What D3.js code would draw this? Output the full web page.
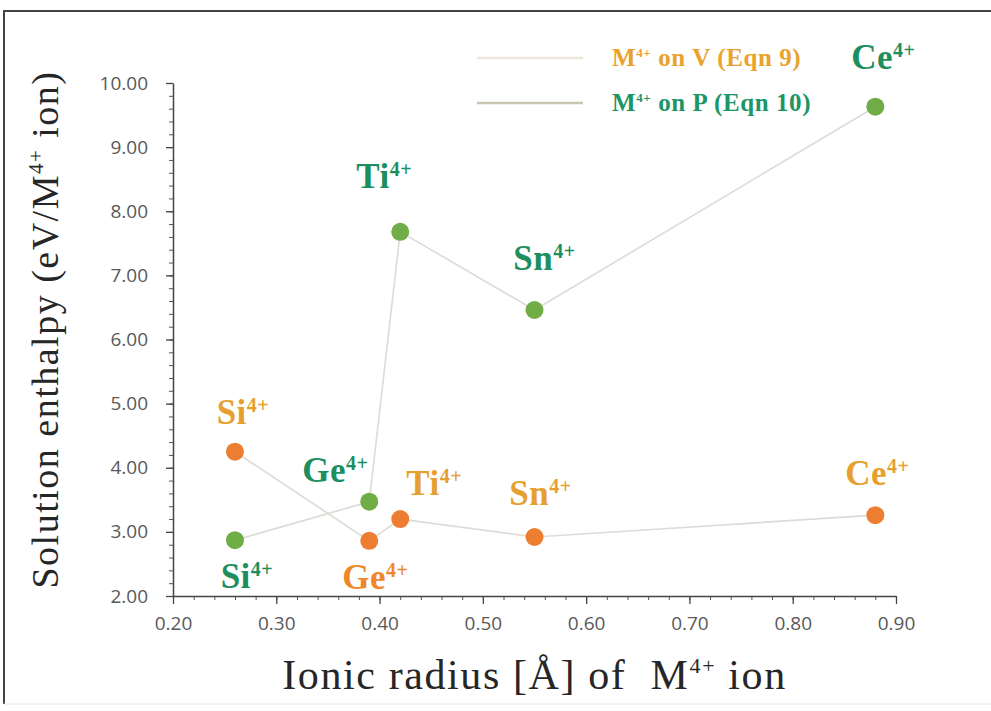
<!DOCTYPE html>
<html>
<head>
<meta charset="utf-8">
<script src="https://cdn.jsdelivr.net/npm/d3@7"></script>
<style>
body { margin: 0; background: #fff; }
.tick text { fill: #595959; font-family: "Open Sans", "DejaVu Sans", sans-serif; font-size: 19px; }
</style>
</head>
<body>
<div id="chart"></div>
<script>
// data
const ions = ["Si", "Ge", "Ti", "Sn", "Ce"];
const radius = [0.26, 0.39, 0.42, 0.55, 0.88];
const onV = [4.25, 2.86, 3.20, 2.92, 3.26];   // Eqn 9
const onP = [2.87, 3.47, 7.68, 6.46, 9.63];   // Eqn 10
const xTicks = [0.2, 0.3, 0.4, 0.5, 0.6, 0.7, 0.8, 0.9];
const yTicks = [2, 3, 4, 5, 6, 7, 8, 9, 10];
// label offsets (dx, dy) relative to each point
const vLabelPos = [[8, -28], [6, 48], [34, -24], [6, -32], [2, -30]];
const pLabelPos = [[12, 48], [-34, -20], [-16, -44], [10, -40], [8, -38]];

const width = 991, height = 711;
const margin = {left: 173, right: 95, top: 83, bottom: 115};

var svg = d3.select("#chart")
	.append("svg")
	.attr("width", width)
	.attr("height", height);

// frame
svg.append("line").attr("x1", 3).attr("x2", width).attr("y1", 11).attr("y2", 11)
	.attr("stroke", "#444").attr("stroke-width", 2);
svg.append("line").attr("x1", 4).attr("x2", 4).attr("y1", 11).attr("y2", 704)
	.attr("stroke", "#444").attr("stroke-width", 2);
svg.append("line").attr("x1", 4).attr("x2", width).attr("y1", 704).attr("y2", 704)
	.attr("stroke", "#e6e6e6").attr("stroke-width", 1);

var x = d3.scaleLinear().domain([0.2, 0.9]).range([margin.left, width - margin.right]);
var y = d3.scaleLinear().domain([2, 10]).range([height - margin.bottom, margin.top]);

// minor ticks
svg.append("g")
	.attr("transform", `translate(0,${y(2)})`)
	.call(d3.axisBottom(x).tickValues(d3.range(0.2, 0.9001, 0.02)).tickSize(4).tickFormat(""))
	.call(g => g.select(".domain").remove())
	.selectAll("line").attr("stroke", "#555");
svg.append("g")
	.attr("transform", `translate(${x(0.2)},0)`)
	.call(d3.axisLeft(y).tickValues(d3.range(2, 10.001, 0.2)).tickSize(4).tickFormat(""))
	.call(g => g.select(".domain").remove())
	.selectAll("line").attr("stroke", "#555");

// major axes
var xAxis = svg.append("g")
	.attr("transform", `translate(0,${y(2)})`)
	.call(d3.axisBottom(x).tickValues(xTicks).tickSize(8).tickSizeOuter(0).tickPadding(13).tickFormat(d3.format(".2f")));
var yAxis = svg.append("g")
	.attr("transform", `translate(${x(0.2)},0)`)
	.call(d3.axisLeft(y).tickValues(yTicks).tickSize(7).tickSizeOuter(0).tickPadding(18).tickFormat(d3.format(".2f")));
[xAxis, yAxis].forEach(a => {
	a.select(".domain").attr("stroke", "#444").attr("stroke-width", 1.5);
	a.selectAll(".tick line").attr("stroke", "#444").attr("stroke-width", 1.3);
});

// series lines
var line = d3.line().x(d => x(d[0])).y(d => y(d[1]));
const seriesV = radius.map((r, i) => [r, onV[i]]);
const seriesP = radius.map((r, i) => [r, onP[i]]);
[seriesV, seriesP].forEach(s => {
	svg.append("path").datum(s)
		.attr("d", line)
		.attr("fill", "none")
		.attr("stroke", "#dddcd6")
		.attr("stroke-width", 1.7);
});

// points
svg.selectAll(".ptV").data(seriesV).enter().append("circle")
	.attr("class", "ptV")
	.attr("cx", d => x(d[0])).attr("cy", d => y(d[1])).attr("r", 9)
	.attr("fill", "#ed7d31");
svg.selectAll(".ptP").data(seriesP).enter().append("circle")
	.attr("class", "ptP")
	.attr("cx", d => x(d[0])).attr("cy", d => y(d[1])).attr("r", 9)
	.attr("fill", "#70ad47");

// ion labels with superscript
const addIonLabel = (name, px, py, color) => {
	var t = svg.append("text")
		.attr("x", px).attr("y", py)
		.attr("text-anchor", "middle")
		.attr("font-family", "'Liberation Serif', 'DejaVu Serif', serif")
		.attr("font-weight", "bold")
		.attr("font-size", 35)
		.attr("letter-spacing", 0.5)
		.attr("fill", color);
	t.append("tspan").text(name);
	t.append("tspan").attr("font-size", 20).attr("dy", -12).text("4+");
};
seriesV.forEach((d, i) => {
	addIonLabel(ions[i], x(d[0]) + vLabelPos[i][0], y(d[1]) + vLabelPos[i][1], i == 1 ? "#f0882a" : "#e6a030");
});
seriesP.forEach((d, i) => {
	addIonLabel(ions[i], x(d[0]) + pLabelPos[i][0], y(d[1]) + pLabelPos[i][1], "#1d8f5f");
});

// legend
const legendItems = [
	{text: "on V (Eqn 9)", color: "#eaa22c", line: "#ebe7da", yy: 58},
	{text: "on P (Eqn 10)", color: "#1d9566", line: "#c8c6b2", yy: 103}
];
legendItems.forEach(l => {
	svg.append("line")
		.attr("x1", 477).attr("x2", 583).attr("y1", l.yy).attr("y2", l.yy)
		.attr("stroke", l.line).attr("stroke-width", 2.5);
	var t = svg.append("text")
		.attr("x", 612).attr("y", l.yy + 8)
		.attr("font-family", "'Liberation Serif', 'DejaVu Serif', serif")
		.attr("font-weight", "bold")
		.attr("font-size", 25)
		.attr("letter-spacing", 0.6)
		.attr("fill", l.color);
	t.append("tspan").text("M");
	t.append("tspan").attr("font-size", 13).attr("dy", -9).text("4+");
	t.append("tspan").attr("dy", 9).text(" " + l.text);
});

// axis titles
var xt = svg.append("text")
	.attr("x", (x(0.2) + x(0.9)) / 2).attr("y", 689)
	.attr("text-anchor", "middle")
	.attr("font-family", "'Liberation Serif', 'DejaVu Serif', serif")
	.attr("font-size", 42)
	.attr("letter-spacing", 1.6)
	.attr("fill", "#262626");
xt.append("tspan").text("Ionic radius [Å] of\u00a0\u00a0M");
xt.append("tspan").attr("font-size", 22).attr("dy", -16).text("4+");
xt.append("tspan").attr("dy", 16).text(" ion");

var yt = svg.append("text")
	.attr("transform", `translate(58,${(y(2) + y(10)) / 2 - 10}) rotate(-90)`)
	.attr("text-anchor", "middle")
	.attr("font-family", "'Liberation Serif', 'DejaVu Serif', serif")
	.attr("font-size", 38)
	.attr("letter-spacing", 1.5)
	.attr("fill", "#262626");
yt.append("tspan").text("Solution enthalpy (eV/M");
yt.append("tspan").attr("font-size", 21).attr("dy", -15).text("4+");
yt.append("tspan").attr("dy", 15).text(" ion)");
</script>
</body>
</html>
